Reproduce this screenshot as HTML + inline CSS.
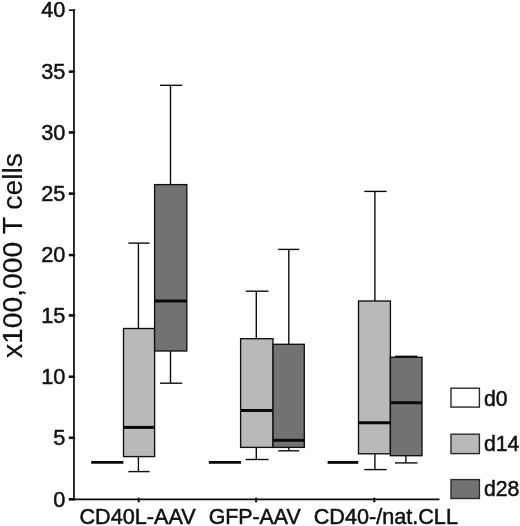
<!DOCTYPE html>
<html><head><meta charset="utf-8"><title>Box plot</title>
<style>
html,body{margin:0;padding:0;background:#fff;}
body{width:520px;height:526px;overflow:hidden;}
svg{display:block;filter:grayscale(100%);}
text{font-family:"Liberation Sans",sans-serif;fill:#111;stroke:#111;stroke-width:0.5px;}
.t20{font-size:20px;}
.t22{font-size:21.7px;}
.t21l{font-size:21.2px;}
.t21{font-size:21px;}
.t28{font-size:28px;stroke-width:0.15px;}
.w{stroke:#0e0e0e;stroke-width:1.4;}
.b{stroke:#101010;stroke-width:1.35;}
.lb{stroke:#2a2a2a;stroke-width:1.4;}
.tk0{stroke:#0c0c0c;stroke-width:1.7;}
.tkx{stroke:#0c0c0c;stroke-width:2.1;}
.m{stroke:#0a0a0a;stroke-width:3;}
.d0{stroke:#0a0a0a;stroke-width:2.9;}
.ax{stroke:#0a0a0a;stroke-width:1.7;}
.tk{stroke:#0c0c0c;stroke-width:2.6;}
</style></head>
<body>
<svg width="520" height="526" viewBox="0 0 520 526">
<rect x="0" y="0" width="520" height="526" fill="#ffffff"/>
<line x1="91.2" y1="462.4" x2="123.4" y2="462.4" class="d0"/>
<line x1="138.4" y1="243.1" x2="138.4" y2="328.5" class="w"/>
<line x1="138.4" y1="456.6" x2="138.4" y2="471.6" class="w"/>
<line x1="128.4" y1="243.1" x2="149.6" y2="243.1" class="w"/>
<line x1="128.4" y1="471.6" x2="149.6" y2="471.6" class="w"/>
<rect x="123.5" y="328.5" width="31.10" height="128.10" fill="#b9b9b9" class="b"/>
<line x1="123.5" y1="427.4" x2="154.6" y2="427.4" class="m"/>
<line x1="170.5" y1="85.3" x2="170.5" y2="184.6" class="w"/>
<line x1="170.5" y1="351" x2="170.5" y2="383.2" class="w"/>
<line x1="160" y1="85.3" x2="182.2" y2="85.3" class="w"/>
<line x1="160" y1="383.2" x2="182.2" y2="383.2" class="w"/>
<rect x="154.6" y="184.6" width="32.20" height="166.40" fill="#727272" class="b"/>
<line x1="154.6" y1="301.1" x2="186.8" y2="301.1" class="m"/>
<line x1="208.8" y1="462.4" x2="241" y2="462.4" class="d0"/>
<line x1="256.3" y1="291.2" x2="256.3" y2="338.7" class="w"/>
<line x1="256.3" y1="447.4" x2="256.3" y2="459.5" class="w"/>
<line x1="245.7" y1="291.2" x2="268.5" y2="291.2" class="w"/>
<line x1="245.7" y1="459.5" x2="268.5" y2="459.5" class="w"/>
<rect x="240.6" y="338.7" width="32.40" height="108.70" fill="#b9b9b9" class="b"/>
<line x1="240.6" y1="410.5" x2="273.0" y2="410.5" class="m"/>
<line x1="288.8" y1="249.4" x2="288.8" y2="344.3" class="w"/>
<line x1="288.8" y1="447.4" x2="288.8" y2="450.8" class="w"/>
<line x1="278.2" y1="249.4" x2="299.2" y2="249.4" class="w"/>
<line x1="278.2" y1="450.8" x2="299.2" y2="450.8" class="w"/>
<rect x="273.0" y="344.3" width="31.30" height="103.10" fill="#727272" class="b"/>
<line x1="273.0" y1="440.3" x2="304.3" y2="440.3" class="m"/>
<line x1="327.6" y1="462.4" x2="358.2" y2="462.4" class="d0"/>
<line x1="374.9" y1="191.4" x2="374.9" y2="301" class="w"/>
<line x1="374.9" y1="453.8" x2="374.9" y2="469.6" class="w"/>
<line x1="364.3" y1="191.4" x2="386.7" y2="191.4" class="w"/>
<line x1="364.3" y1="469.6" x2="386.7" y2="469.6" class="w"/>
<rect x="358.5" y="301" width="31.90" height="152.80" fill="#b9b9b9" class="b"/>
<line x1="358.5" y1="422.7" x2="390.4" y2="422.7" class="m"/>
<line x1="405.9" y1="356.3" x2="405.9" y2="357.3" class="w"/>
<line x1="405.9" y1="455.7" x2="405.9" y2="462.9" class="w"/>
<line x1="395" y1="356.3" x2="417.4" y2="356.3" class="w"/>
<line x1="395" y1="462.9" x2="417.4" y2="462.9" class="w"/>
<rect x="390.4" y="357.3" width="31.60" height="98.40" fill="#727272" class="b"/>
<line x1="390.4" y1="402.7" x2="422.0" y2="402.7" class="m"/>
<line x1="73.95" y1="9.35" x2="73.95" y2="500.1" class="ax"/>
<line x1="73.25" y1="499.3" x2="439.5" y2="499.3" class="ax"/>
<line x1="68.8" y1="10.20" x2="75.1" y2="10.20" class="tk0"/>
<text x="65.4" y="16.60" text-anchor="end" class="t22">40</text>
<line x1="68.8" y1="71.64" x2="75.1" y2="71.64" class="tk"/>
<text x="65.4" y="78.64" text-anchor="end" class="t22">35</text>
<line x1="68.8" y1="132.47" x2="75.1" y2="132.47" class="tk"/>
<text x="65.4" y="139.78" text-anchor="end" class="t22">30</text>
<line x1="68.8" y1="193.61" x2="75.1" y2="193.61" class="tk"/>
<text x="65.4" y="200.91" text-anchor="end" class="t22">25</text>
<line x1="68.8" y1="255.05" x2="75.1" y2="255.05" class="tk"/>
<text x="65.4" y="262.05" text-anchor="end" class="t22">20</text>
<line x1="68.8" y1="315.39" x2="75.1" y2="315.39" class="tk"/>
<text x="65.4" y="323.19" text-anchor="end" class="t22">15</text>
<line x1="68.8" y1="376.73" x2="75.1" y2="376.73" class="tk"/>
<text x="65.4" y="384.33" text-anchor="end" class="t22">10</text>
<line x1="68.8" y1="437.76" x2="75.1" y2="437.76" class="tk"/>
<text x="65.4" y="445.46" text-anchor="end" class="t22">5</text>
<line x1="68.8" y1="499.30" x2="75.1" y2="499.30" class="tk"/>
<text x="65.4" y="506.60" text-anchor="end" class="t22">0</text>
<line x1="138.7" y1="497.7" x2="138.7" y2="502.3" class="tkx"/>
<line x1="256.1" y1="497.7" x2="256.1" y2="502.3" class="tkx"/>
<line x1="374.3" y1="497.7" x2="374.3" y2="502.3" class="tkx"/>
<text transform="translate(79.5,523.6) scale(1.031,1.08)" class="t21">CD40L-AAV</text>
<text transform="translate(208.65,523.6) scale(1.0166,1.08)" class="t21">GFP-AAV</text>
<text transform="translate(313.65,523.6) scale(1.0306,1.08)" class="t21">CD40-/nat.CLL</text>
<text transform="translate(22.3,358.1) rotate(-90) scale(1.011,1.0)" class="t28">x100,000 T cells</text>
<rect x="451.0" y="388.2" width="28.4" height="18.90" fill="#ffffff" class="lb"/>
<text x="484.0" y="405.70" class="t21l">d0</text>
<rect x="451.0" y="434.2" width="28.4" height="19.40" fill="#b9b9b9" class="lb"/>
<text x="484.0" y="451.20" class="t21l">d14</text>
<rect x="451.0" y="479.6" width="28.4" height="18.90" fill="#727272" class="lb"/>
<text x="484.0" y="496.00" class="t21l">d28</text>
</svg>
</body></html>
